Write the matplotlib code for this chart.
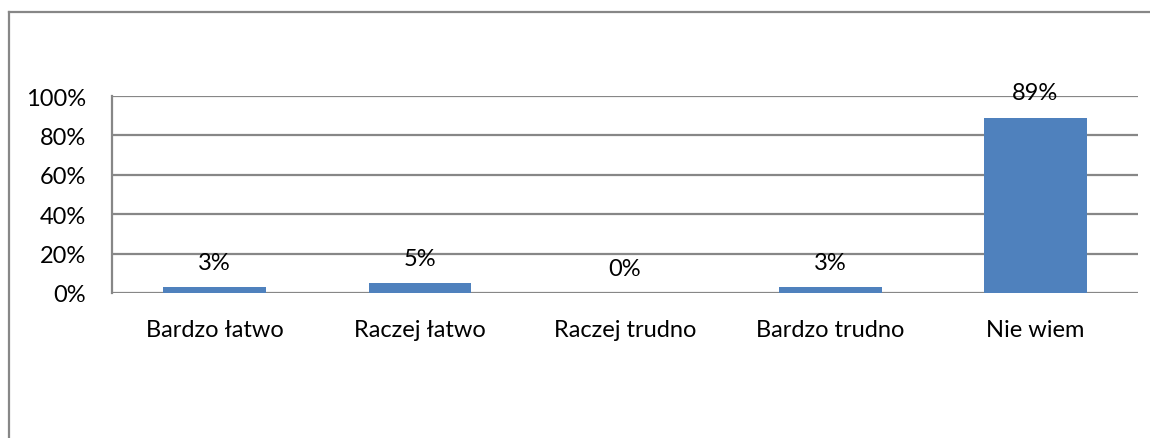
import matplotlib
matplotlib.use("Agg")
import matplotlib.pyplot as plt
from matplotlib.lines import Line2D

categories = ["Bardzo łatwo", "Raczej łatwo", "Raczej trudno", "Bardzo trudno", "Nie wiem"]
shares = [3, 5, 0, 3, 89]          # percent of answers
y_ticks = [0, 20, 40, 60, 80, 100]

BAR_COLOR = "#4f81bd"
GRID_COLOR = "#878787"
FONT_SIZE = 17

plt.rcParams["font.family"] = ["Lato", "DejaVu Sans"]

W, H = 1150, 439
fig = plt.figure(figsize=(W / 100, H / 100), dpi=100)
ax = fig.add_axes([112 / W, (H - 294) / H, (1138 - 112) / W, (294 - 97) / H])

x = range(len(categories))
ax.bar(x, shares, width=0.5, color=BAR_COLOR, zorder=3)
ax.set_xlim(-0.5, len(categories) - 0.5)
ax.set_ylim(0, 100)

ax.set_yticks(y_ticks)
ax.set_yticklabels([f"{t}%" for t in y_ticks])
ax.set_xticks(list(x))
ax.set_xticklabels(categories)
ax.tick_params(axis="both", length=0, labelsize=FONT_SIZE, colors="black")
ax.tick_params(axis="y", pad=18.5)
ax.tick_params(axis="x", pad=19)

ax.yaxis.grid(True, color=GRID_COLOR, linewidth=1.6, zorder=0)
for side in ("top", "right", "bottom"):
    ax.spines[side].set_visible(False)
ax.spines["left"].set_color(GRID_COLOR)
ax.spines["left"].set_linewidth(1.6)

for xi, v in zip(x, shares):
    ax.annotate(f"{v}%", (xi, v), xytext=(0, 18), textcoords="offset points",
                ha="center", va="center", fontsize=FONT_SIZE, zorder=4)

# outer chart frame (top and left edges only are in view)
fig.add_artist(Line2D([8.5 / W, 1.0], [(H - 12.5) / H] * 2, transform=fig.transFigure,
                      color=GRID_COLOR, linewidth=1.6))
fig.add_artist(Line2D([8.5 / W] * 2, [0, (H - 12.5) / H], transform=fig.transFigure,
                      color=GRID_COLOR, linewidth=1.6))

fig.savefig("out.png", dpi=100, facecolor="white")
